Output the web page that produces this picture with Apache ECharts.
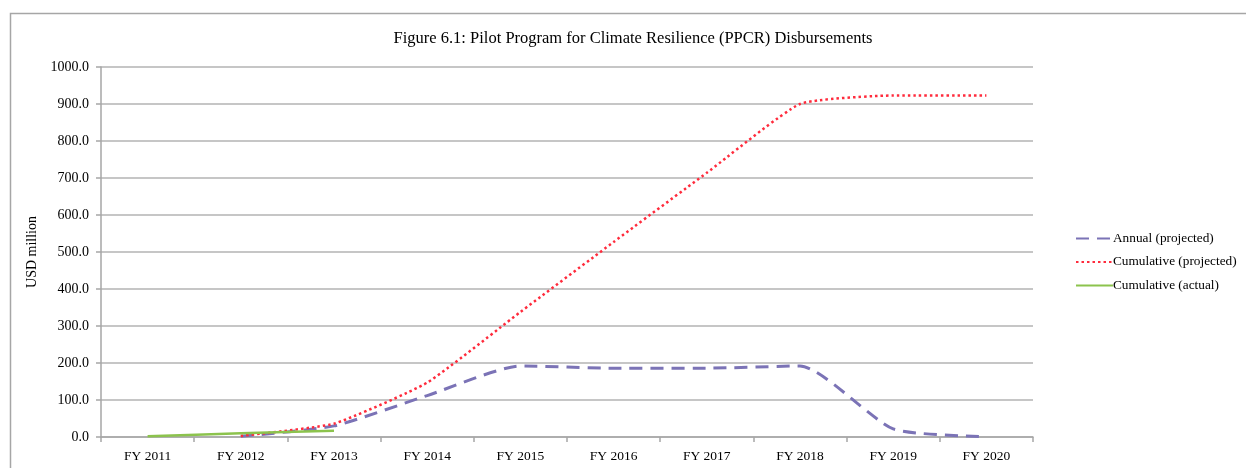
<!DOCTYPE html>
<html>
<head>
<meta charset="utf-8">
<script src="https://cdn.jsdelivr.net/npm/echarts@6/dist/echarts.min.js"></script>
<style>
  html, body { margin: 0; padding: 0; background: #fff; }
  #chart { width: 1246px; height: 468px; }
</style>
</head>
<body>
<div id="chart"></div>
<script>
// categories and values
const years = ["FY 2011", "FY 2012", "FY 2013", "FY 2014", "FY 2015",
               "FY 2016", "FY 2017", "FY 2018", "FY 2019", "FY 2020"];
const annualProjected = [null, 2, 30, 112, 192, 186, 186, 192, 22, 1];
const cumulativeProjected = [null, 3, 36, 147, 338, 527, 714, 900, 923, 923];
const cumulativeActual = [2, 10, 17, null, null, null, null, null, null, null];
const yTicks = [0, 1000, 100];

const serif = "Liberation Serif";
const chart = echarts.init(document.getElementById("chart"));

chart.setOption({
  animation: false,
  backgroundColor: "#fff",
  // outer chart border
  graphic: [{
    type: "rect",
    shape: { x: 10.5, y: 13.5, width: 1300, height: 500 },
    style: { fill: "none", stroke: "#a6a6a6", lineWidth: 1.5 },
    silent: true
  }],
  title: {
    text: "Figure 6.1: Pilot Program for Climate Resilience (PPCR) Disbursements",
    left: 628,
    textAlign: "center",
    top: 25,
    textStyle: { fontFamily: serif, fontSize: 16.5, fontWeight: "normal", color: "#000" }
  },
  legend: {
    orient: "vertical",
    left: 1070,
    top: 227,
    itemWidth: 37,
    itemHeight: 10,
    itemGap: 10.5,
    itemStyle: { opacity: 0 },
    textStyle: { fontFamily: serif, fontSize: 13.3, color: "#000", padding: [0, 0, 0, -5] },
    data: ["Annual (projected)", "Cumulative (projected)", "Cumulative (actual)"]
  },
  grid: { left: 101, right: 213, top: 67, bottom: 31 },
  xAxis: {
    type: "category",
    data: years,
    boundaryGap: true,
    axisLine: { lineStyle: { color: "#a6a6a6", width: 1.5 } },
    axisTick: { show: true, length: 5, lineStyle: { color: "#a6a6a6", width: 1.5 } },
    axisLabel: { fontFamily: serif, fontSize: 13.5, color: "#000", margin: 12 }
  },
  yAxis: {
    type: "value",
    min: yTicks[0],
    max: yTicks[1],
    interval: yTicks[2],
    name: "USD million",
    nameLocation: "middle",
    nameGap: 62,
    nameTextStyle: { fontFamily: serif, fontSize: 14, color: "#000" },
    axisLine: { show: true, lineStyle: { color: "#a6a6a6", width: 1.5 } },
    axisTick: { show: true, length: 5, lineStyle: { color: "#a6a6a6", width: 1.5 } },
    axisLabel: {
      fontFamily: serif, fontSize: 14, color: "#000", margin: 12,
      formatter: (v) => v.toFixed(1)
    },
    splitLine: { lineStyle: { color: "#b3b3b3", width: 1.5 } }
  },
  series: [
    {
      name: "Annual (projected)",
      type: "line",
      data: annualProjected,
      smooth: 0.2,
      symbol: "none",
      itemStyle: { color: "#7b73b6" },
      lineStyle: { color: "#7b73b6", width: 3, type: [13, 8] },
      z: 3
    },
    {
      name: "Cumulative (projected)",
      type: "line",
      data: cumulativeProjected,
      smooth: 0.15,
      symbol: "none",
      itemStyle: { color: "#ff2b3c" },
      lineStyle: { color: "#ff2b3c", width: 2.5, type: [2.5, 3] },
      z: 4
    },
    {
      name: "Cumulative (actual)",
      type: "line",
      data: cumulativeActual,
      smooth: 0.2,
      symbol: "none",
      itemStyle: { color: "#8cc34d" },
      lineStyle: { color: "#8cc34d", width: 2.5 },
      z: 5
    }
  ]
});
</script>
</body>
</html>
